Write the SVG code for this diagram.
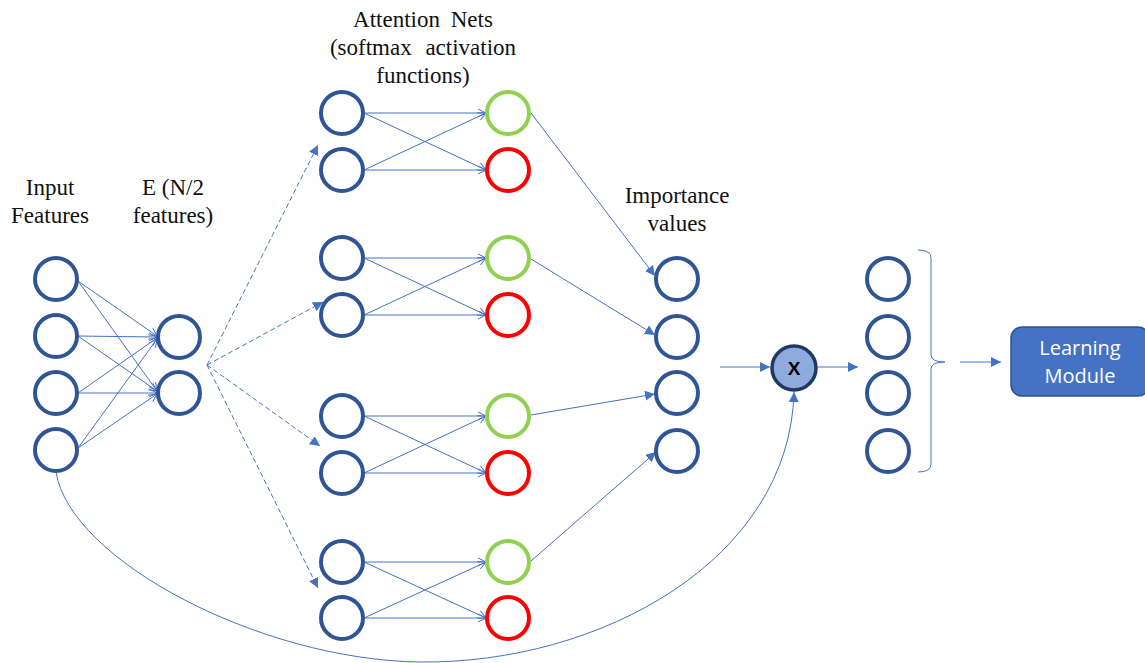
<svg xmlns="http://www.w3.org/2000/svg" width="1145" height="663" viewBox="0 0 1145 663">
  <style>
    .lbl { font-family: "Liberation Serif", "Times New Roman", serif; font-size: 23px; fill: #111; text-anchor: middle; }
    .unit { fill: none; stroke: #2f5597; stroke-width: 4; }
    .pos { fill: none; stroke: #92d050; stroke-width: 4; }
    .neg { fill: none; stroke: #ff0000; stroke-width: 4; }
    .wire { fill: none; stroke: #4472c4; stroke-width: 1; }
    .dash { fill: none; stroke: #4472c4; stroke-width: 1; stroke-dasharray: 5 3; }
  </style>
  <defs>
    <marker id="open" markerUnits="userSpaceOnUse" markerWidth="12" markerHeight="12" refX="9" refY="5" orient="auto">
      <path d="M1,1 L9,5 L1,9" fill="none" stroke="#4472c4" stroke-width="1"/>
    </marker>
    <marker id="solid" markerUnits="userSpaceOnUse" markerWidth="12" markerHeight="12" refX="10" refY="5" orient="auto">
      <path d="M0,0 L10,5 L0,10 Z" fill="#4472c4"/>
    </marker>
  </defs>
  <rect width="1145" height="663" fill="#ffffff"/>

  <!-- column headings -->
  <text class="lbl" x="50" y="195">Input</text>
  <text class="lbl" x="50" y="223">Features</text>
  <text class="lbl" x="173" y="195">E (N/2</text>
  <text class="lbl" x="173" y="223">features)</text>
  <text class="lbl" x="423" y="27" word-spacing="5">Attention Nets</text>
  <text class="lbl" x="423" y="55" word-spacing="8">(softmax activation</text>
  <text class="lbl" x="423" y="83">functions)</text>
  <text class="lbl" x="677" y="203">Importance</text>
  <text class="lbl" x="677" y="231">values</text>

  <g id="connectors">
    <!-- input features to E -->
    <g marker-end="url(#open)">
      <line class="wire" x1="78" y1="281" x2="157" y2="336"/>
      <line class="wire" x1="78" y1="281" x2="157" y2="391"/>
      <line class="wire" x1="78" y1="336" x2="157" y2="337"/>
      <line class="wire" x1="78" y1="336" x2="157" y2="391"/>
      <line class="wire" x1="78" y1="393" x2="157" y2="338"/>
      <line class="wire" x1="78" y1="393" x2="157" y2="393"/>
      <line class="wire" x1="78" y1="448" x2="157" y2="339"/>
      <line class="wire" x1="78" y1="448" x2="157" y2="394"/>
    </g>
    <!-- E fan-out to the attention nets -->
    <g marker-end="url(#solid)">
      <line class="dash" x1="207" y1="365" x2="318" y2="145"/>
      <line class="dash" x1="207" y1="365" x2="323" y2="302"/>
      <line class="dash" x1="207" y1="365" x2="320" y2="446"/>
      <line class="dash" x1="207" y1="365" x2="318" y2="588"/>
    </g>
    <!-- attention net layers -->
    <g marker-end="url(#open)">
      <line class="wire" x1="364" y1="113" x2="486" y2="113"/>
      <line class="wire" x1="364" y1="113" x2="486" y2="170"/>
      <line class="wire" x1="364" y1="170" x2="486" y2="113"/>
      <line class="wire" x1="364" y1="170" x2="486" y2="170"/>

      <line class="wire" x1="364" y1="258" x2="486" y2="258"/>
      <line class="wire" x1="364" y1="258" x2="486" y2="315"/>
      <line class="wire" x1="364" y1="315" x2="486" y2="258"/>
      <line class="wire" x1="364" y1="315" x2="486" y2="315"/>

      <line class="wire" x1="364" y1="416" x2="486" y2="416"/>
      <line class="wire" x1="364" y1="416" x2="486" y2="473"/>
      <line class="wire" x1="364" y1="473" x2="486" y2="416"/>
      <line class="wire" x1="364" y1="473" x2="486" y2="473"/>

      <line class="wire" x1="364" y1="562" x2="486" y2="562"/>
      <line class="wire" x1="364" y1="562" x2="486" y2="618"/>
      <line class="wire" x1="364" y1="618" x2="486" y2="562"/>
      <line class="wire" x1="364" y1="618" x2="486" y2="618"/>
    </g>
    <!-- softmax outputs to importance values -->
    <g marker-end="url(#solid)">
      <line class="wire" x1="531" y1="113" x2="655" y2="276"/>
      <line class="wire" x1="531" y1="259" x2="655" y2="335"/>
      <line class="wire" x1="531" y1="415" x2="655" y2="394"/>
      <line class="wire" x1="531" y1="561" x2="656" y2="452"/>
      <line class="wire" x1="720" y1="367" x2="770" y2="367"/>
      <line class="wire" x1="818" y1="367" x2="858" y2="367"/>
      <line class="wire" x1="960" y1="362" x2="1001" y2="362"/>
      <path class="wire" d="M56,472 C70,560 260,660 420,662 C600,664 790,560 794,392"/>
    </g>
    <!-- brace grouping the weighted features -->
    <path class="wire" d="M918,250 Q931,250 931,258 L931,355 Q931,362 945,362 Q931,362 931,369 L931,464 Q931,472 918,472"/>
  </g>

  <g id="input-features">
    <circle class="unit" cx="56" cy="279" r="21"/>
    <circle class="unit" cx="56" cy="336" r="21"/>
    <circle class="unit" cx="56" cy="393" r="21"/>
    <circle class="unit" cx="56" cy="450" r="21"/>
  </g>
  <g id="e-features">
    <circle class="unit" cx="179" cy="337" r="21"/>
    <circle class="unit" cx="179" cy="393" r="21"/>
  </g>
  <g id="attention-net-1">
    <circle class="unit" cx="342" cy="113" r="21"/>
    <circle class="unit" cx="342" cy="170" r="21"/>
    <circle class="pos" cx="508" cy="113" r="21"/>
    <circle class="neg" cx="508" cy="170" r="21"/>
  </g>
  <g id="attention-net-2">
    <circle class="unit" cx="342" cy="258" r="21"/>
    <circle class="unit" cx="342" cy="315" r="21"/>
    <circle class="pos" cx="508" cy="258" r="21"/>
    <circle class="neg" cx="508" cy="315" r="21"/>
  </g>
  <g id="attention-net-3">
    <circle class="unit" cx="342" cy="416" r="21"/>
    <circle class="unit" cx="342" cy="473" r="21"/>
    <circle class="pos" cx="508" cy="416" r="21"/>
    <circle class="neg" cx="508" cy="473" r="21"/>
  </g>
  <g id="attention-net-4">
    <circle class="unit" cx="342" cy="562" r="21"/>
    <circle class="unit" cx="342" cy="618" r="21"/>
    <circle class="pos" cx="508" cy="562" r="21"/>
    <circle class="neg" cx="508" cy="618" r="21"/>
  </g>
  <g id="importance-values">
    <circle class="unit" cx="677" cy="279" r="21"/>
    <circle class="unit" cx="677" cy="337" r="21"/>
    <circle class="unit" cx="677" cy="393" r="21"/>
    <circle class="unit" cx="677" cy="451" r="21"/>
  </g>
  <g id="multiply">
    <circle cx="794" cy="368" r="22" fill="#8faadc" stroke="#203864" stroke-width="3.5"/>
    <text x="794" y="375" font-family="'Liberation Sans', Arial, sans-serif" font-size="19" font-weight="bold" text-anchor="middle" fill="#000">X</text>
  </g>
  <g id="weighted-features">
    <circle class="unit" cx="888" cy="279" r="21"/>
    <circle class="unit" cx="888" cy="337" r="21"/>
    <circle class="unit" cx="888" cy="393" r="21"/>
    <circle class="unit" cx="888" cy="451" r="21"/>
  </g>
  <g id="learning-module">
    <rect x="1011" y="327" width="138" height="69" rx="11" fill="#4472c4" stroke="#2f528f" stroke-width="1.5"/>
    <text x="1080" y="355" font-family="'Open Sans', 'Liberation Sans', sans-serif" font-size="20" text-anchor="middle" fill="#ffffff">Learning</text>
    <text x="1080" y="383" font-family="'Open Sans', 'Liberation Sans', sans-serif" font-size="20" text-anchor="middle" fill="#ffffff">Module</text>
  </g>
</svg>
